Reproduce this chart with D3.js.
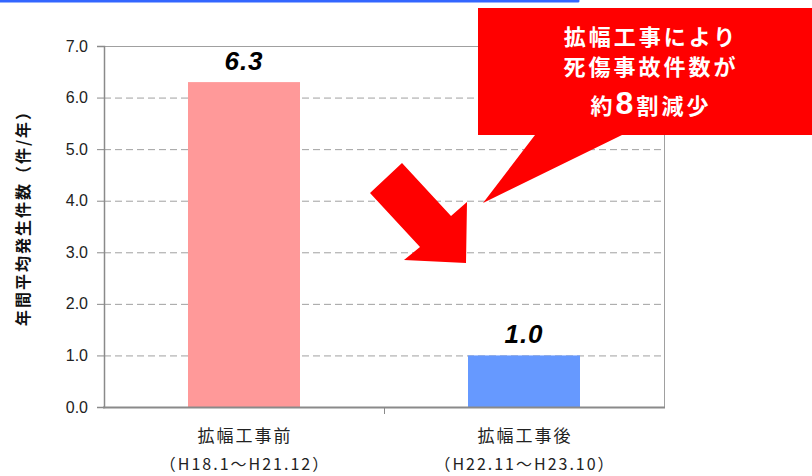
<!DOCTYPE html>
<html>
<head>
<meta charset="utf-8">
<script src="https://cdn.jsdelivr.net/npm/d3@7"></script>
<style>
body{margin:0;background:#fff;}
svg{display:block;}
</style>
</head>
<body>
<script>
// data
var categories = ['拡幅工事前', '拡幅工事後'];
var periods = ['（H18.1～H21.12）', '（H22.11～H23.10）'];
var values = [6.3, 1.0];
var yTicks = [0, 1, 2, 3, 4, 5, 6, 7];
var yTitle = '年間平均発生件数（件/年）';
var note = ['拡幅工事により', '死傷事故件数が'];

var barColors = ['#ff9999', '#6699ff'];

var W = 812, H = 476;
var svg = d3.select('body').append('svg').attr('width', W).attr('height', H);

var x = d3.scaleBand().domain(categories).range([104, 664]).paddingInner(0.6).paddingOuter(0.3);
var y = d3.scaleLinear().domain([0, 7]).range([407, 46]);

// blue line across top
svg.append('line')
.attr('x1', 0).attr('y1', 1).attr('x2', 578).attr('y2', 1)
.style('stroke', '#3366ff').style('stroke-width', 3).style('stroke-linecap', 'round');

// gridlines
svg.selectAll('.grid').data(yTicks.filter(d => d > 0 && d < 7)).enter().append('line')
.attr('x1', 104).attr('x2', 664)
.attr('y1', d => y(d) + 0.5).attr('y2', d => y(d) + 0.5)
.style('stroke', '#a0a0a0').style('stroke-dasharray', '7,4');

// plot border top/right
svg.append('path')
.attr('d', 'M104,' + (y(7) + 0.5) + 'H664.5V' + y(0))
.style('fill', 'none').style('stroke', '#a0a0a0');

// bars
svg.selectAll('.bar').data(values).enter().append('rect')
.attr('x', (d, i) => x(categories[i]))
.attr('y', d => y(d))
.attr('width', x.bandwidth())
.attr('height', d => y(0) - y(d))
.attr('fill', (d, i) => barColors[i]);

// value labels
svg.selectAll('.val').data(values).enter().append('text')
.text(d => d.toFixed(1))
.attr('x', (d, i) => x(categories[i]) + x.bandwidth() / 2)
.attr('y', d => y(d) - 12)
.attr('text-anchor', 'middle')
.style('font-family', 'Liberation Sans, Arial, sans-serif')
.style('font-weight', 'bold').style('font-style', 'italic')
.style('font-size', '26px').style('letter-spacing', '1px').style('fill', '#000');

// y axis
var yAxis = d3.axisLeft(y).tickValues(yTicks).tickFormat(d3.format('.1f')).tickSize(7).tickPadding(9);
var gy = svg.append('g').attr('transform', 'translate(104,0)').call(yAxis);
gy.select('.domain').style('stroke', '#8a8a8a').style('stroke-width', 1.5);
gy.selectAll('.tick line').style('stroke', '#8a8a8a');
gy.selectAll('.tick text').style('font-family', 'Liberation Sans, Arial, sans-serif')
.style('font-size', '16px').style('fill', '#222');

// x axis
svg.append('line')
.attr('x1', 103).attr('x2', 665).attr('y1', y(0) + 0.5).attr('y2', y(0) + 0.5)
.style('stroke', '#8a8a8a').style('stroke-width', 2);
svg.append('line')
.attr('x1', 384.5).attr('x2', 384.5).attr('y1', y(0)).attr('y2', y(0) + 7)
.style('stroke', '#8a8a8a');

svg.selectAll('.cat').data(categories).enter().append('text')
.text(d => d)
.attr('x', d => x(d) + x.bandwidth() / 2 + 1)
.attr('y', 442)
.attr('text-anchor', 'middle')
.style('font-family', 'Noto Sans CJK JP, sans-serif')
.style('font-size', '17px').style('letter-spacing', '2px').style('fill', '#222');

svg.selectAll('.per').data(periods).enter().append('text')
.text(d => d)
.attr('x', (d, i) => x(categories[i]) + x.bandwidth() / 2 + 1)
.attr('y', 470)
.attr('text-anchor', 'middle')
.style('font-family', 'Noto Sans CJK JP, sans-serif')
.style('font-size', '16px').style('letter-spacing', '2px').style('fill', '#222');

// y title
svg.append('text')
.text(yTitle)
.attr('transform', 'translate(29,214) rotate(-90)')
.attr('text-anchor', 'middle')
.style('font-family', 'Noto Sans CJK JP, sans-serif')
.style('font-weight', 'bold').style('letter-spacing', '2px')
.style('font-size', '16px').style('fill', '#111');

// big arrow
svg.append('polygon')
.attr('points', '370,193 402,163 451,216 467,202 466,263 404,260 420,247')
.attr('fill', '#ff0000');

// callout
svg.append('path')
.attr('d', 'M478,8H812V135H622L483,203L535,135H478Z')
.attr('fill', '#ff0000');

var tx = 651;
svg.selectAll('.note').data(note).enter().append('text')
.text(d => d)
.attr('x', tx)
.attr('y', (d, i) => 45 + i * 30)
.attr('text-anchor', 'middle')
.style('font-family', 'Noto Sans CJK JP, sans-serif')
.style('font-weight', 'bold').style('letter-spacing', '3px')
.style('font-size', '22px').style('fill', '#fff');

var t3 = svg.append('text')
.attr('x', tx).attr('y', 114)
.attr('text-anchor', 'middle')
.style('font-family', 'Noto Sans CJK JP, sans-serif')
.style('font-weight', 'bold').style('letter-spacing', '3px')
.style('font-size', '22px').style('fill', '#fff');
t3.append('tspan').text('約');
t3.append('tspan').text('8').style('font-size', '32px').style('font-family', 'Liberation Sans, Arial, sans-serif');
t3.append('tspan').text('割減少');
</script>
</body>
</html>
